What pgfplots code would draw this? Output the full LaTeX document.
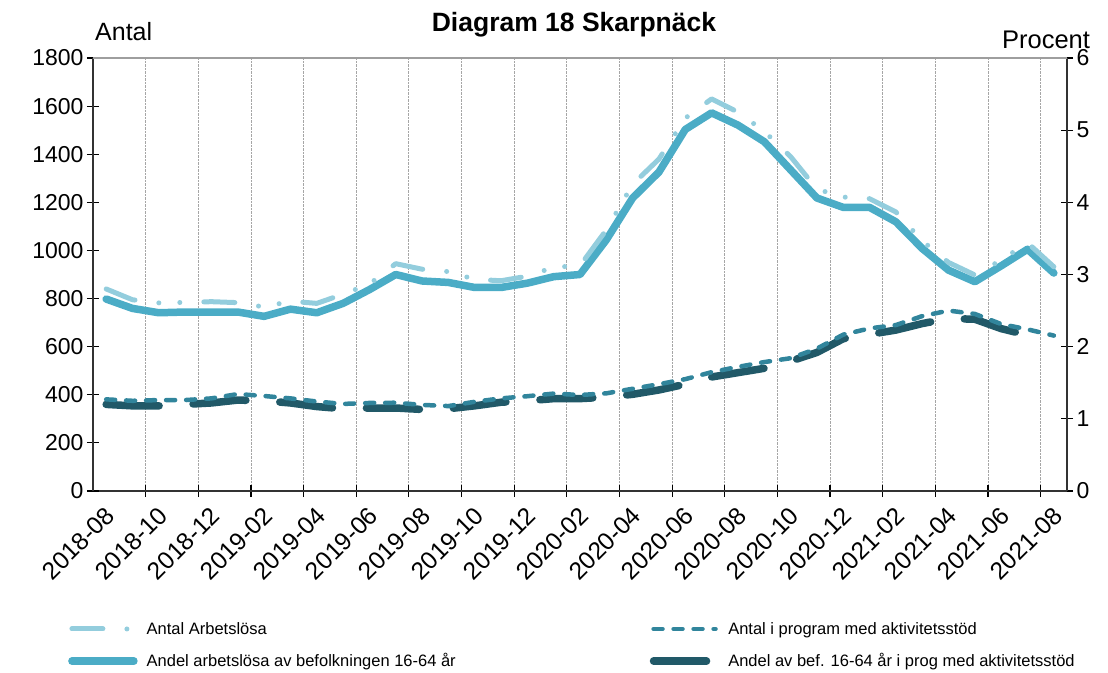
\documentclass[border=0pt]{standalone}
\usepackage{fontspec}
\setmainfont{Liberation Sans}
\usepackage{pgfplots}
\usepackage{pgfplotstable}
\pgfplotsset{compat=1.18}

\definecolor{cLight}{RGB}{147,205,221}
\definecolor{cSolid}{RGB}{75,172,198}
\definecolor{cMed}{RGB}{49,133,156}
\definecolor{cDark}{RGB}{33,89,104}

\pgfplotstableread{
i antal prog andel andelprog
0 840 381 2.66 1.20
1 795 375 2.53 1.18
2 782 378 2.47 1.18
3 784 378 2.48 1.20
4 787 385 2.48 1.22
5 783 403 2.48 1.26
6 765 395 2.42 1.25
7 789 385 2.52 1.22
8 780 372 2.47 1.17
9 818 362 2.60 1.14
10 860 366 2.79 1.15
11 945 367 3.00 1.15
12 922 358 2.91 1.13
13 912 353 2.89 1.14
14 880 371 2.82 1.18
15 874 385 2.82 1.23
16 893 394 2.88 1.25
17 930 405 2.97 1.28
18 937 399 3.00 1.28
19 1085 406 3.48 1.30
20 1275 425 4.06 1.34
21 1380 444 4.42 1.40
22 1550 465 5.01 1.48
23 1630 494 5.24 1.58
24 1575 516 5.07 1.64
25 1495 536 4.84 1.70
26 1390 552 4.45 1.80
27 1255 592 4.06 1.92
28 1222 650 3.93 2.11
29 1215 676 3.93 2.17
30 1160 690 3.73 2.23
31 1040 727 3.36 2.32
32 950 750 3.06 2.39
33 898 736 2.90 2.38
34 960 694 3.12 2.25
35 1032 672 3.35 2.16
36 932 646 3.02 nan
}\datatable

\tikzset{
  sA/.style={cLight, line width=5pt, line cap=round, line join=round, dash pattern=on 31pt off 24pt on 0pt off 21pt on 0pt off 24pt},
  sB/.style={cMed, line width=4.5pt, line cap=round, line join=round, dash pattern=on 9pt off 11pt},
  sC/.style={cSolid, line width=7.5pt, line cap=round, line join=round},
  sD/.style={cDark, line width=7.5pt, line cap=round, line join=round, dash pattern=on 53pt off 34pt},
}

\newcommand{\ytickfont}{\fontsize{23}{27}\selectfont}
\newcommand{\xtickfont}{\fontsize{24.5}{28}\selectfont}

\begin{document}
\begin{tikzpicture}
\useasboundingbox (-93pt,-181pt) rectangle (1015pt,491pt);
% percent axis (right)
\begin{axis}[
  name=ax1, at={(0pt,0pt)}, anchor=south west,
  scale only axis, width=974pt, height=433pt,
  xmin=-0.5, xmax=36.5, ymin=0, ymax=6,
  axis x line*=bottom, axis y line*=right,
  axis line style={black!80, line width=1.6pt},
  ytick={0,1,2,3,4,5,6},
  xtick={0,2,...,36},
  xticklabels={2018-08,2018-10,2018-12,2019-02,2019-04,2019-06,2019-08,2019-10,2019-12,2020-02,2020-04,2020-06,2020-08,2020-10,2020-12,2021-02,2021-04,2021-06,2021-08},
  minor xtick={1.5,3.5,...,35.5},
  xminorgrids=true,
  minor grid style={black!35, densely dotted, line width=0.8pt},
  major x tick style={draw=none},
  minor x tick style={black, line width=1.2pt},
  y tick style={black, line width=1.2pt},
  tick align=center,
  major tick length=12pt, minor tick length=12pt,
  x tick label style={rotate=45, anchor=north east, font=\xtickfont, xshift=-4pt, yshift=-1pt},
  y tick label style={font=\ytickfont},
  /pgf/number format/assume math mode=true,
  /pgf/number format/1000 sep={},
]
\addplot[sC] table[x=i, y=andel] {\datatable};
\addplot[sD] table[x=i, y=andelprog] {\datatable};
\end{axis}
% count axis (left)
\begin{axis}[
  name=ax2, at={(0pt,0pt)}, anchor=south west,
  scale only axis, width=974pt, height=433pt,
  xmin=-0.5, xmax=36.5, ymin=0, ymax=1800,
  axis x line=none, axis y line*=left,
  axis line style={black!80, line width=1.6pt},
  ytick={0,200,...,1800},
  y tick style={black, line width=1.2pt},
  tick align=center, major tick length=12pt,
  y tick label style={font=\ytickfont},
  /pgf/number format/assume math mode=true,
  /pgf/number format/1000 sep={},
  legend columns=2,
  legend cell align=left,
  legend style={
    at={(axis description cs:-0.0257,-0.298)}, anchor=north west,
    draw=none, fill=none, inner sep=0pt,
    font=\fontsize{16.5}{19}\selectfont,
    row sep=14pt,
    /tikz/every odd column/.append style={column sep=7pt},
    /tikz/every even column/.append style={column sep=192pt},
  },
  legend image code/.code={\draw[#1] (0pt,0pt) -- (62pt,0pt);},
]
\addplot[sA] table[x=i, y=antal] {\datatable};
\addlegendentry{Antal Arbetslösa}
\addplot[sB] table[x=i, y=prog] {\datatable};
\addlegendentry{Antal i program med aktivitetsstöd}
\addlegendimage{sC}
\addlegendentry{Andel arbetslösa av befolkningen 16-64 år}
\addlegendimage{sD}
\addlegendentry{Andel av bef. 16-64 år i prog med aktivitetsstöd}
\end{axis}
\draw[black!38, line width=2.2pt] (ax1.north west) -- (ax1.north east);
\node[anchor=west, font=\fontsize{25}{29}\selectfont, inner sep=0pt] at (2pt,459pt) {Antal};
\node[font=\bfseries\fontsize{26.5}{30}\selectfont, inner sep=0pt] at (481pt,466pt) {Diagram 18 Skarpnäck};
\node[font=\fontsize{25.5}{29}\selectfont, inner sep=0pt] at (953pt,451pt) {Procent};
\end{tikzpicture}
\end{document}
